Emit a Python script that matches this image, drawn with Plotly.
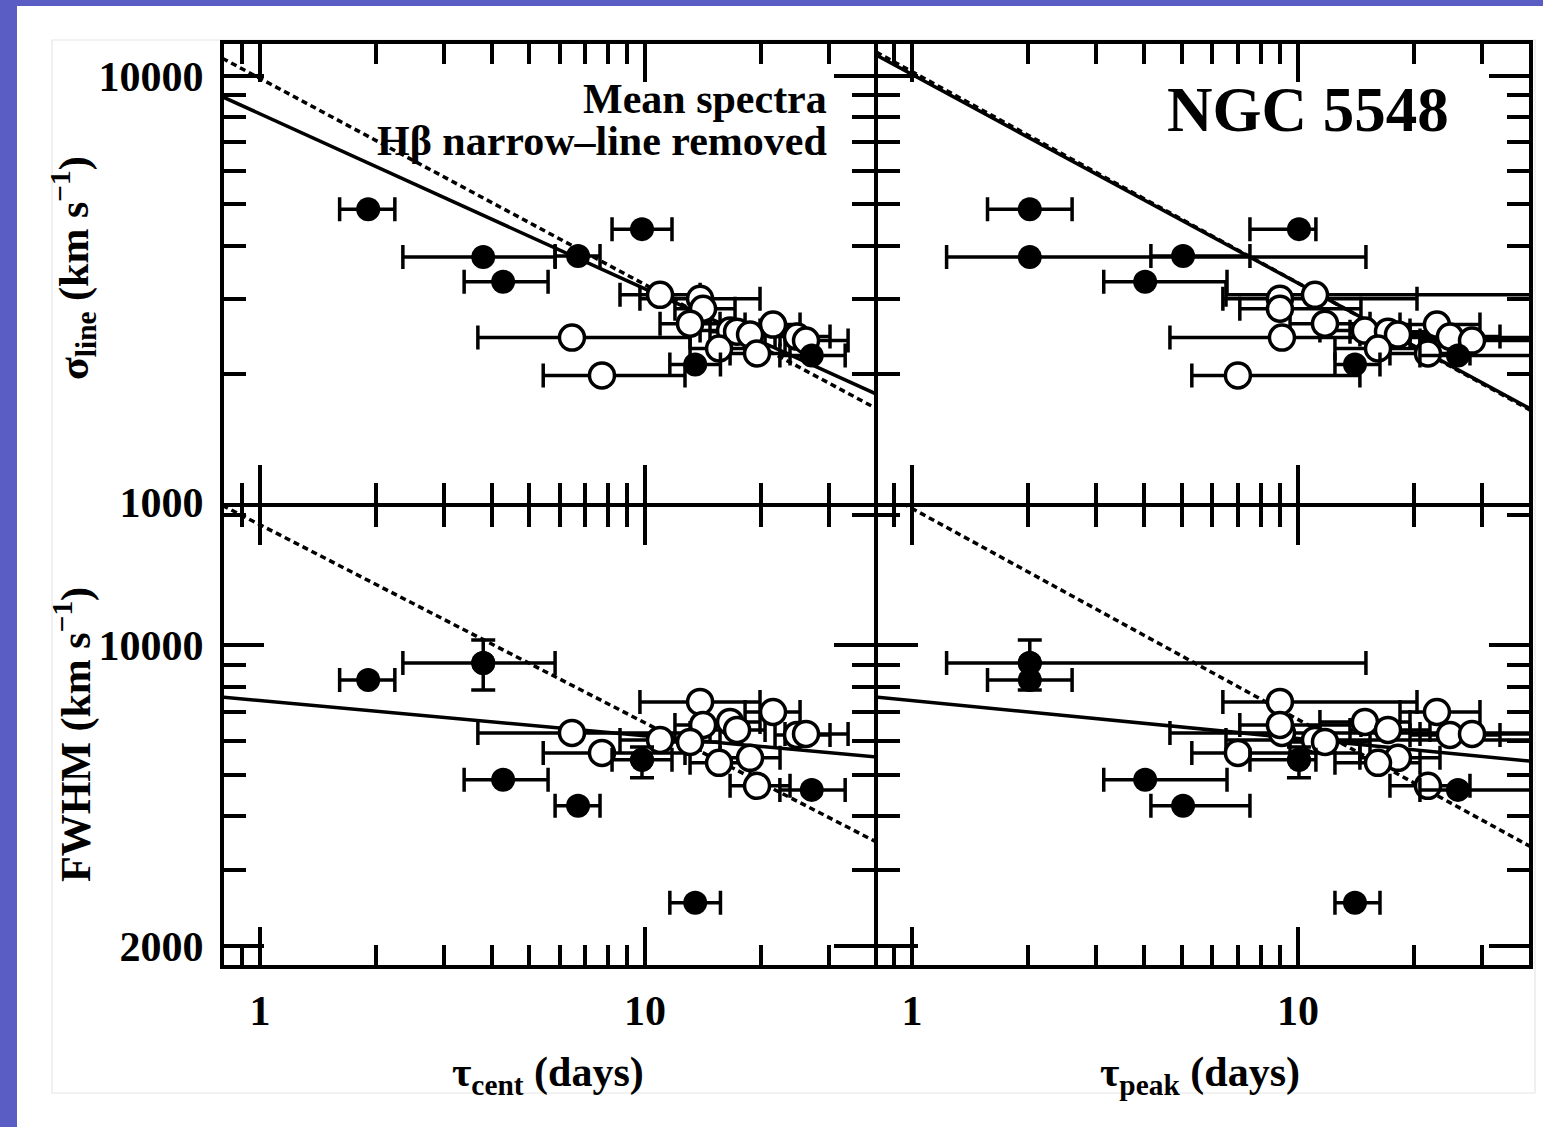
import numpy as np
import plotly.graph_objects as go

# ---------------- data ----------------
# filled symbols
fill_tau_cent    = [1.91, 3.80, 4.28, 6.70, 9.82, 13.5, 27.1]
fill_tau_cent_lo = [1.61, 2.35, 3.39, 5.84, 8.21, 11.6, 22.4]
fill_tau_cent_hi = [2.24, 5.84, 5.60, 7.64, 11.75, 15.7, 33.1]
fill_tau_peak    = [2.02, 2.02, 4.02, 5.04, 10.06, 14.05, 25.97]
fill_tau_peak_lo = [1.57, 1.23, 3.14, 4.16, 7.51, 12.47, 20.7]
fill_tau_peak_hi = [2.60, 15.0, 6.55, 7.51, 11.13, 16.31, 41.7]
fill_sigma       = [4871, 3765, 3292, 3785, 4375, 2109, 2213]
fill_fwhm        = [8295, 9082, 4862, 4231, 5410, 2520, 4608]
fill_fwhm_lo     = [None, 7863, None, None, 4914, None, None]
fill_fwhm_hi     = [None, 10270, None, None, 5799, None, None]

# open symbols
open_tau_cent    = [6.46, 7.73, 10.94, 13.9, 14.15, 13.09, 21.5, 16.63, 17.34, 18.74, 24.82, 26.19, 15.57, 19.54]
open_tau_cent_lo = [3.68, 5.44, 8.61, 9.70, 11.96, 10.94, 18.19, 13.9, 14.75, 15.66, 21.76, 23.1, 13.09, 16.63]
open_tau_cent_hi = [13.09, 12.7, 13.9, 19.89, 17.13, 15.66, 25.27, 19.89, 20.5, 22.42, 30.23, 33.68, 18.74, 23.8]
open_tau_peak    = [9.09, 6.99, 11.07, 8.98, 8.98, 11.75, 22.91, 14.91, 17.11, 18.16, 24.76, 28.24, 16.12, 21.72]
open_tau_peak_lo = [4.66, 5.31, 6.51, 6.39, 7.07, 9.54, 18.38, 11.4, 13.64, 14.47, 19.51, 20.71, 12.47, 17.31]
open_tau_peak_hi = [42.4, 14.47, 42.4, 20.34, 14.56, 15.37, 29.61, 19.51, 21.98, 23.33, 33.37, 42.4, 20.71, 27.9]
open_sigma       = [2438, 1988, 3070, 3006, 2848, 2628, 2614, 2531, 2517, 2477, 2451, 2399, 2298, 2237]
open_fwhm        = [6248, 5615, 6019, 7373, 6522, 5954, 6989, 6626, 6350, 5468, 6182, 6215, 5324, 4708]

# power-law fits  log10(V) = logA + slope*log10(tau), panels: sigma-cent, sigma-peak, fwhm-cent, fwhm-peak
fit_solid_logA  = [3.911, 4.0035, 3.871, 3.871]
fit_solid_slope = [-0.41, -0.489, -0.082, -0.088]
fit_dash_logA   = [3.994, 4.010, 4.279, 4.317]
fit_dash_slope  = [-0.483, -0.495, -0.46, -0.49]

x_tick_vals = [1, 10]
x_tick_text = ["1", "10"]
x_minor_vals = [0.9, 2, 3, 4, 5, 6, 7, 8, 9, 20, 30, 40]
yt_tick_vals = [1000, 10000]
yt_tick_text = ["1000", "10000"]
yt_minor_vals = [2000, 3000, 4000, 5000, 6000, 7000, 8000, 9000]
yb_tick_vals = [2000, 10000]
yb_tick_text = ["2000", "10000"]
yb_minor_vals = [3000, 4000, 5000, 6000, 7000, 8000, 9000, 20000]

# ---------------- layout geometry ----------------
W, H = 1543, 1127
LW = 4                      # axis line width
L, R, T, B = 224, 1529, 44, 965   # inner plot-area edges (lines drawn just outside)
PW, PH = R - L, B - T
MIDX, MIDY = 876, 505


def px2x(px):
    return (px - L) / PW


def py2y(py):
    return (B - py) / PH


XL_RANGE = [-0.0935, 1.5947]
XR_RANGE = [-0.0878, 1.5985]
YT_RANGE = [2.9995, 4.0746]
YB_RANGE = [3.2570, 4.3202]

FONT = "Liberation Serif"
BLACK = "black"

fig = go.Figure()

panels = [
    ("x", "y", open_tau_cent, open_tau_cent_lo, open_tau_cent_hi, open_sigma, XL_RANGE,
     fill_tau_cent, fill_tau_cent_lo, fill_tau_cent_hi, fill_sigma),
    ("x2", "y2", open_tau_peak, open_tau_peak_lo, open_tau_peak_hi, open_sigma, XR_RANGE,
     fill_tau_peak, fill_tau_peak_lo, fill_tau_peak_hi, fill_sigma),
    ("x3", "y3", open_tau_cent, open_tau_cent_lo, open_tau_cent_hi, open_fwhm, XL_RANGE,
     fill_tau_cent, fill_tau_cent_lo, fill_tau_cent_hi, fill_fwhm),
    ("x4", "y4", open_tau_peak, open_tau_peak_lo, open_tau_peak_hi, open_fwhm, XR_RANGE,
     fill_tau_peak, fill_tau_peak_lo, fill_tau_peak_hi, fill_fwhm),
]

for i, (xa, ya, ox, olo, ohi, oy, xr, fx, flo, fhi, fy) in enumerate(panels):
    lx = np.linspace(xr[0] - 0.05, xr[1] + 0.05, 50)
    tau = 10 ** lx
    fig.add_trace(go.Scatter(
        x=tau, y=10 ** (fit_dash_logA[i] + fit_dash_slope[i] * lx), mode="lines",
        line=dict(color=BLACK, width=3.5, dash="6px,4px"), xaxis=xa, yaxis=ya,
        showlegend=False, hoverinfo="skip"))
    fig.add_trace(go.Scatter(
        x=tau, y=10 ** (fit_solid_logA[i] + fit_solid_slope[i] * lx), mode="lines",
        line=dict(color=BLACK, width=3.5), xaxis=xa, yaxis=ya,
        showlegend=False, hoverinfo="skip"))
    ox_a = np.array(ox)
    fig.add_trace(go.Scatter(
        x=ox, y=oy, mode="markers", xaxis=xa, yaxis=ya, showlegend=False,
        marker=dict(symbol="circle", size=25, color="white", line=dict(color=BLACK, width=3.5)),
        error_x=dict(type="data", symmetric=False, array=np.array(ohi) - ox_a,
                     arrayminus=ox_a - np.array(olo), color=BLACK, thickness=3.5, width=12)))
    fx_a = np.array(fx)
    fig.add_trace(go.Scatter(
        x=fx, y=fy, mode="markers", xaxis=xa, yaxis=ya, showlegend=False,
        marker=dict(symbol="circle", size=24, color=BLACK),
        error_x=dict(type="data", symmetric=False, array=np.array(fhi) - fx_a,
                     arrayminus=fx_a - np.array(flo), color=BLACK, thickness=3.5, width=12)))
    if ya in ("y3", "y4"):
        idx = [k for k in range(len(fill_fwhm)) if fill_fwhm_lo[k] is not None]
        ex = [fx[k] for k in idx]
        ey = np.array([fill_fwhm[k] for k in idx])
        elo = np.array([fill_fwhm_lo[k] for k in idx])
        ehi = np.array([fill_fwhm_hi[k] for k in idx])
        fig.add_trace(go.Scatter(
            x=ex, y=ey, mode="markers", xaxis=xa, yaxis=ya, showlegend=False,
            marker=dict(symbol="circle", size=24, color=BLACK),
            error_y=dict(type="data", symmetric=False, array=ehi - ey, arrayminus=ey - elo,
                         color=BLACK, thickness=3.5, width=12)))

tickfont = dict(family=FONT, size=42, color=BLACK, weight="bold")


def xaxis(rng, dom, anchor, labels):
    return dict(type="log", range=rng, domain=dom, anchor=anchor,
                showline=True, linewidth=LW, linecolor=BLACK, mirror="ticks",
                ticks="inside", ticklen=38, tickwidth=3.5, tickcolor=BLACK,
                tickmode="array", tickvals=x_tick_vals, ticktext=x_tick_text,
                showticklabels=labels, tickfont=tickfont, ticklabelstandoff=6,
                showgrid=False, zeroline=False,
                minor=dict(ticks="inside", ticklen=20, tickwidth=3.5, tickcolor=BLACK,
                           tickmode="array", tickvals=x_minor_vals, showgrid=False))


def yaxis(rng, dom, anchor, labels, tv, tt, mv):
    return dict(type="log", range=rng, domain=dom, anchor=anchor,
                showline=True, linewidth=LW, linecolor=BLACK, mirror="ticks",
                ticks="inside", ticklen=40, tickwidth=3.5, tickcolor=BLACK,
                tickmode="array", tickvals=tv, ticktext=tt,
                showticklabels=labels, tickfont=tickfont, ticklabelstandoff=8,
                showgrid=False, zeroline=False,
                minor=dict(ticks="inside", ticklen=22, tickwidth=3.5, tickcolor=BLACK,
                           tickmode="array", tickvals=mv, showgrid=False))


# panels separated by one line width so the shared lines coincide
xl_dom = [0, px2x(MIDX - LW / 2)]
xr_dom = [px2x(MIDX + LW / 2), 1]
yt_dom = [py2y(MIDY - LW / 2), 1]
yb_dom = [0, py2y(MIDY + LW / 2)]

annot_font = dict(family=FONT, size=42, color=BLACK, weight="bold")

annotations = [
    dict(text="Mean spectra", x=px2x(829), y=py2y(99), xanchor="right", yanchor="middle",
         showarrow=False, font=annot_font, xref="paper", yref="paper"),
    dict(text="Hβ narrow–line removed", x=px2x(829), y=py2y(141), xanchor="right", yanchor="middle",
         showarrow=False, font=annot_font, xref="paper", yref="paper"),
    dict(text="NGC 5548", x=px2x(1308), y=py2y(110), xanchor="center", yanchor="middle",
         showarrow=False, font=dict(family=FONT, size=63, color=BLACK, weight="bold"),
         xref="paper", yref="paper"),
    dict(text="τ<sub>cent</sub> (days)", x=px2x(548), y=py2y(1075), xanchor="center", yanchor="middle",
         showarrow=False, font=annot_font, xref="paper", yref="paper"),
    dict(text="τ<sub>peak</sub> (days)", x=px2x(1200), y=py2y(1075), xanchor="center", yanchor="middle",
         showarrow=False, font=annot_font, xref="paper", yref="paper"),
    dict(text="σ<sub>line</sub> (km s<sup>−1</sup>)", x=px2x(73), y=py2y(268), xanchor="center",
         yanchor="middle", textangle=-90, showarrow=False,
         font=dict(family=FONT, size=42, color=BLACK, weight="bold"), xref="paper", yref="paper"),
    dict(text="FWHM (km s<sup>−1</sup>)", x=px2x(73), y=py2y(735), xanchor="center",
         yanchor="middle", textangle=-90, showarrow=False,
         font=dict(family=FONT, size=42, color=BLACK, weight="bold"), xref="paper", yref="paper"),
]

shapes = [
    dict(type="rect", xref="paper", yref="paper", x0=px2x(0), x1=px2x(17), y0=py2y(H), y1=py2y(0),
         fillcolor="#5a5ec4", line=dict(width=0), layer="below"),
    dict(type="rect", xref="paper", yref="paper", x0=px2x(0), x1=px2x(W), y0=py2y(6), y1=py2y(0),
         fillcolor="#5a5ec4", line=dict(width=0), layer="below"),
    dict(type="rect", xref="paper", yref="paper", x0=px2x(52), x1=px2x(1535), y0=py2y(1093), y1=py2y(40),
         fillcolor="rgba(0,0,0,0)", line=dict(width=1.2, color="#e6e6e6"), layer="below"),
]

fig.update_layout(
    width=W, height=H,
    margin=dict(l=L, r=W - R, t=T, b=H - B, autoexpand=False),
    paper_bgcolor="white", plot_bgcolor="white",
    font=dict(family=FONT, color=BLACK),
    showlegend=False,
    xaxis=xaxis(XL_RANGE, xl_dom, "y", False),
    yaxis=yaxis(YT_RANGE, yt_dom, "x", True, yt_tick_vals, yt_tick_text, yt_minor_vals),
    xaxis2=xaxis(XR_RANGE, xr_dom, "y2", False),
    yaxis2=yaxis(YT_RANGE, yt_dom, "x2", False, yt_tick_vals, yt_tick_text, yt_minor_vals),
    xaxis3=xaxis(XL_RANGE, xl_dom, "y3", True),
    yaxis3=yaxis(YB_RANGE, yb_dom, "x3", True, yb_tick_vals, yb_tick_text, yb_minor_vals),
    xaxis4=xaxis(XR_RANGE, xr_dom, "y4", True),
    yaxis4=yaxis(YB_RANGE, yb_dom, "x4", False, yb_tick_vals, yb_tick_text, yb_minor_vals),
    annotations=annotations,
    shapes=shapes,
)

fig.write_html("out.html")
